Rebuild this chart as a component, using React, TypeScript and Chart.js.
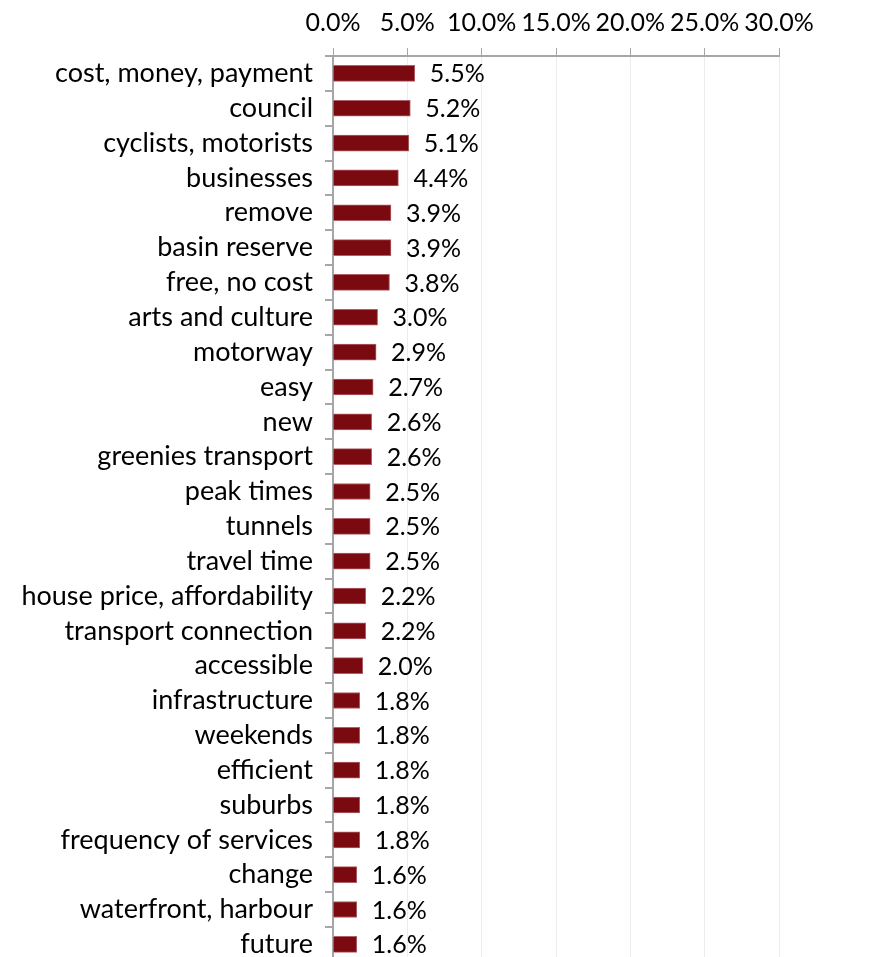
import React, { useEffect, useRef } from "react";
import { Chart, registerables } from "chart.js";

Chart.register(...registerables);

const categories = [
  "cost, money, payment",
  "council",
  "cyclists, motorists",
  "businesses",
  "remove",
  "basin reserve",
  "free, no cost",
  "arts and culture",
  "motorway",
  "easy",
  "new",
  "greenies transport",
  "peak times",
  "tunnels",
  "travel time",
  "house price, affordability",
  "transport connection",
  "accessible",
  "infrastructure",
  "weekends",
  "efficient",
  "suburbs",
  "frequency of services",
  "change",
  "waterfront, harbour",
  "future",
];

const values = [
  0.055, 0.052, 0.051, 0.044, 0.039, 0.039, 0.038, 0.03, 0.029, 0.027, 0.026,
  0.026, 0.025, 0.025, 0.025, 0.022, 0.022, 0.02, 0.018, 0.018, 0.018, 0.018,
  0.018, 0.016, 0.016, 0.016,
];

const FONT = "Lato, 'Open Sans', sans-serif";

const valueLabels = {
  id: "valueLabels",
  afterDatasetsDraw(chart: any) {
    const ctx = chart.ctx;
    const meta = chart.getDatasetMeta(0);
    ctx.save();
    ctx.font = `25px ${FONT}`;
    ctx.fillStyle = "#000";
    ctx.textBaseline = "middle";
    ctx.textAlign = "left";
    meta.data.forEach((bar: any, i: number) => {
      const v = chart.data.datasets[0].data[i] as number;
      ctx.fillText((v * 100).toFixed(1) + "%", bar.x + 15, bar.y + 1);
    });
    ctx.restore();
  },
};

export default function App() {
  const ref = useRef<HTMLCanvasElement>(null);
  useEffect(() => {
    if (!ref.current) return;
    const chart = new Chart(ref.current, {
      type: "bar",
      data: {
        labels: categories,
        datasets: [
          {
            data: values,
            backgroundColor: "#7b0a10",
            borderColor: "#b06068",
            borderWidth: 1,
            barThickness: 16,
          },
        ],
      },
      options: {
        indexAxis: "y",
        animation: false,
        responsive: true,
        maintainAspectRatio: false,
        layout: { padding: { top: 0, right: 98, left: 0, bottom: 0 } },
        plugins: { legend: { display: false }, tooltip: { enabled: false } },
        scales: {
          x: {
            position: "top",
            min: 0,
            max: 0.3,
            ticks: {
              stepSize: 0.05,
              padding: 10,
              color: "#000",
              maxRotation: 0,
              minRotation: 0,
              autoSkip: false,
              font: { family: FONT, size: 25 },
              callback: (v: any) => (Number(v) * 100).toFixed(1) + "%",
            },
            grid: {
              color: "#ececec",
              tickColor: "#a6a6a6",
              tickLength: 8,
              lineWidth: 1,
            },
            border: { color: "#a6a6a6", width: 2 },
          },
          y: {
            afterFit: (scale: any) => {
              scale.width = 325;
            },
            ticks: {
              color: "#000",
              padding: 12,
              font: { family: FONT, size: 27 },
              autoSkip: false,
            },
            grid: {
              drawOnChartArea: false,
              tickColor: "#a6a6a6",
              tickLength: 8,
              offset: true,
              lineWidth: 2,
            },
            border: { color: "#a6a6a6", width: 2 },
          },
        },
      },
      plugins: [valueLabels],
    });
    return () => chart.destroy();
  }, []);
  return (
    <div style={{ width: 869, height: 992, marginTop: -10, position: "relative" }}>
      <canvas ref={ref} />
    </div>
  );
}
